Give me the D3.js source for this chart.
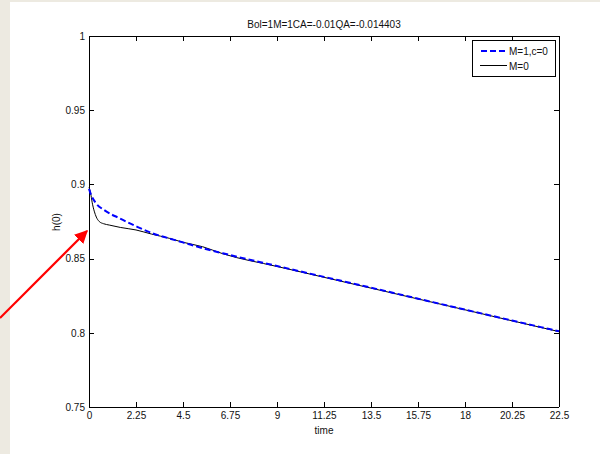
<!DOCTYPE html>
<html>
<head>
  <meta charset="utf-8">
  <script src="https://d3js.org/d3.v7.min.js"></script>
  <style>
    body { margin: 0; padding: 0; background: #edeae1; }
    svg { display: block; }
    text { font-family: 'Liberation Sans', Arial, sans-serif; fill: #111; }
  </style>
</head>
<body>
  <svg id="chart" width="600" height="454"></svg>
  <script>
    // data
    const chartTitle = "Bol=1M=1CA=-0.01QA=-0.014403";
    const xTicks = [0, 2.25, 4.5, 6.75, 9, 11.25, 13.5, 15.75, 18, 20.25, 22.5];
    const xTickLabels = ["0", "2.25", "4.5", "6.75", "9", "11.25", "13.5", "15.75", "18", "20.25", "22.5"];
    const yTicks = [0.75, 0.8, 0.85, 0.9, 0.95, 1];
    const yTickLabels = ["0.75", "0.8", "0.85", "0.9", "0.95", "1"];

    const timeM1 = [0, 0.1, 0.33, 0.75, 1.45, 2.25, 3.05, 3.84, 4.64, 5.5, 6.4, 9, 11.25, 13.5, 15.75, 18, 20.25, 22.5];
    const hM1    = [0.897, 0.893, 0.8874, 0.8825, 0.8772, 0.8718, 0.867, 0.8636, 0.8603, 0.8568, 0.8536, 0.845, 0.8377, 0.8304, 0.823, 0.8156, 0.8083, 0.801];

    const timeM0 = [0, 0.08, 0.15, 0.25, 0.35, 0.49, 0.7, 0.97, 1.5, 2.25, 3, 3.84, 4.5, 5.44, 6.4, 9, 11.25, 13.5, 15.75, 18, 20.25, 22.5];
    const hM0    = [0.898, 0.894, 0.888, 0.882, 0.878, 0.875, 0.8735, 0.8726, 0.871, 0.8693, 0.8665, 0.8637, 0.861, 0.858, 0.8533, 0.8447, 0.8374, 0.8301, 0.8228, 0.8155, 0.8081, 0.8008];

    const legendLabels = ["M=1,c=0", "M=0"];

    const svg = d3.select("#chart");
    const pLeft = 89, pRight = 559, pTop = 36, pBottom = 407;

    // white figure area
    svg.append("rect").attr("x", 10).attr("y", 2).attr("width", 590).attr("height", 452).attr("fill", "#fff");

    const x = d3.scaleLinear().domain([0, 22.5]).range([pLeft, pRight]);
    const y = d3.scaleLinear().domain([0.75, 1]).range([pBottom, pTop]);

    // axes (ticks pointing in, mirrored on top/right)
    const xAxis = d3.axisBottom(x).tickValues(xTicks).tickFormat((d, i) => xTickLabels[i]).tickSize(-5).tickPadding(5);
    const xTop = d3.axisTop(x).tickValues(xTicks).tickFormat("").tickSize(-5);
    const yAxis = d3.axisLeft(y).tickValues(yTicks).tickFormat((d, i) => yTickLabels[i]).tickSize(-5).tickPadding(4);
    const yRight = d3.axisRight(y).tickValues(yTicks).tickFormat("").tickSize(-5);

    function style(g) {
      g.selectAll("path, line").attr("stroke", "#000").attr("shape-rendering", "crispEdges");
      g.selectAll("text").attr("font-size", 10).attr("fill", "#111")
        .style("font-family", "'Liberation Sans', Arial, sans-serif");
    }

    svg.append("g").attr("transform", `translate(0,${pBottom})`).call(xAxis).call(style)
      .select(".domain").attr("d", `M${pLeft},0H${pRight}`);
    svg.append("g").attr("transform", `translate(0,${pTop})`).call(xTop).call(style)
      .select(".domain").attr("d", `M${pLeft},0H${pRight}`);
    svg.append("g").attr("transform", `translate(${pLeft},0)`).call(yAxis).call(style)
      .select(".domain").attr("d", `M0,${pTop}V${pBottom}`);
    svg.append("g").attr("transform", `translate(${pRight},0)`).call(yRight).call(style)
      .select(".domain").attr("d", `M0,${pTop}V${pBottom}`);

    // lines
    const line = d3.line().x(d => x(d[0])).y(d => y(d[1])).curve(d3.curveMonotoneX);

    svg.append("path")
      .datum(timeM0.map((t, i) => [t, hM0[i]]))
      .attr("d", line).attr("fill", "none")
      .attr("stroke", "#000").attr("stroke-width", 1);

    svg.append("path")
      .datum(timeM1.map((t, i) => [t, hM1[i]]))
      .attr("d", line).attr("fill", "none")
      .attr("stroke", "#0000ff").attr("stroke-width", 2)
      .attr("stroke-dasharray", "6,3");

    // title and axis labels
    svg.append("text").attr("x", (pLeft + pRight) / 2).attr("y", 28)
      .attr("text-anchor", "middle").attr("font-size", 10).text(chartTitle);
    svg.append("text").attr("x", (pLeft + pRight) / 2).attr("y", 434)
      .attr("text-anchor", "middle").attr("font-size", 10).text("time");
    svg.append("text").attr("transform", "translate(60,222) rotate(-90)")
      .attr("text-anchor", "middle").attr("font-size", 10).text("h(0)");

    // legend
    const lg = svg.append("g");
    lg.append("rect").attr("x", 472.5).attr("y", 40.5).attr("width", 83).attr("height", 36)
      .attr("fill", "#fff").attr("stroke", "#000");
    lg.append("line").attr("x1", 481).attr("x2", 507).attr("y1", 51).attr("y2", 51)
      .attr("stroke", "#0000ff").attr("stroke-width", 2).attr("stroke-dasharray", "6,3");
    lg.append("line").attr("x1", 480).attr("x2", 507).attr("y1", 65.5).attr("y2", 65.5)
      .attr("stroke", "#000").attr("stroke-width", 1);
    legendLabels.forEach((lab, i) => {
      lg.append("text").attr("x", 509).attr("y", 55 + i * 14.5)
        .attr("font-size", 10).text(lab);
    });

    // red annotation arrow
    const defs = svg.append("defs");
    defs.append("marker").attr("id", "head").attr("viewBox", "0 0 10 10")
      .attr("refX", 9).attr("refY", 5).attr("markerWidth", 6).attr("markerHeight", 6)
      .attr("markerUnits", "strokeWidth").attr("orient", "auto")
      .append("path").attr("d", "M0,0L10,5L0,10Z").attr("fill", "#ff0000");
    svg.append("line").attr("x1", 0).attr("y1", 318).attr("x2", 87).attr("y2", 231)
      .attr("stroke", "#ff0000").attr("stroke-width", 2.2).attr("marker-end", "url(#head)");
  </script>
</body>
</html>
